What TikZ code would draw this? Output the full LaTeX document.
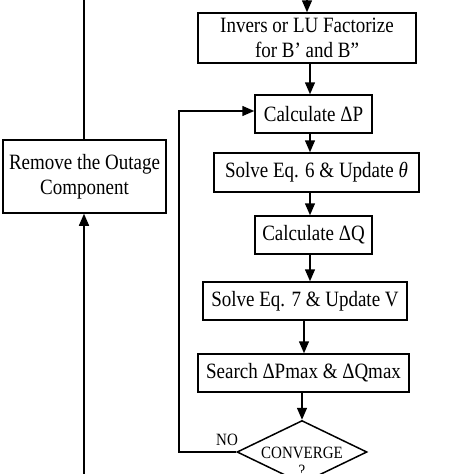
\documentclass[tikz,border=0pt]{standalone}
\usepackage{fontspec}
\setmainfont{Liberation Serif}
\usetikzlibrary{arrows.meta,shapes.geometric}
\newcommand{\vs}[1]{\scalebox{1}[1.15]{#1}}
\begin{document}
\begin{tikzpicture}[x=1pt,y=-1pt,
  line width=1.5pt,
  box/.style={draw,rectangle,inner sep=0pt,align=center,font=\fontsize{19}{25}\selectfont},
  arr/.style={-{Triangle[length=12pt,width=10pt]}},
  small/.style={font=\fontsize{15}{17}\selectfont,inner sep=0pt}]
\useasboundingbox (0,0) rectangle (474,474);
\fill[white] (0,0) rectangle (474,474);
\clip (0,0) rectangle (474,474);
% boxes
\node[box,minimum width=218pt,minimum height=50pt] (inv) at (307,38) {\vs{Invers or LU Factorize}\\\vs{for B’ and B”}};
\node[box,minimum width=117pt,minimum height=38pt] (dp) at (313.5,114) {\vs{Calculate ΔP}};
\node[box,minimum width=205pt,minimum height=39pt] (s6) at (316.5,172.5) {\vs{Solve Eq. 6 \& Update \textit{θ}}};
\node[box,minimum width=117pt,minimum height=38pt] (dq) at (313.5,235) {\vs{Calculate ΔQ}};
\node[box,minimum width=204pt,minimum height=38pt] (s7) at (305,301) {\vs{Solve Eq. 7 \& Update V}};
\node[box,minimum width=211pt,minimum height=38pt] (srch) at (303.5,373) {\vs{Search ΔPmax \& ΔQmax}};
\node[box,minimum width=163pt,minimum height=73pt] (rem) at (84.5,176.5) {\vs{Remove the Outage}\\\vs{Component}};
\node[draw,diamond,inner sep=0pt,minimum width=130pt,minimum height=63pt] (conv) at (302,452) {};
\node[small] (convt) at (302,453) {\vs{CONVERGE}};
\node[small] (convq) at (302,471) {\vs{?}};
\node[small] (no) at (227,440) {\vs{NO}};
% helper coordinates
\coordinate (top) at (307,-10);
\coordinate (c1) at (310,0);
\coordinate (c2) at (304,0);
\coordinate (c3) at (302,0);
\coordinate (fb) at (179,111);
\coordinate (topL) at (84,-10);
\coordinate (botL) at (84,490);
% connectors
\draw[arr] (top) -- (inv.north);
\draw[arr] (inv.south -| c1) -- (dp.north -| c1);
\draw[arr] (dp.south -| c1) -- (s6.north -| c1);
\draw[arr] (s6.south -| c1) -- (dq.north -| c1);
\draw[arr] (dq.south -| c1) -- (s7.north -| c1);
\draw[arr] (s7.south -| c2) -- (srch.north -| c2);
\draw[arr] (srch.south -| c3) -- (conv.north);
\draw[arr] (conv.west) -| (fb) -- (fb -| dp.west);
\draw (rem.north -| topL) -- (topL);
\draw[arr] (botL) -- (rem.south -| botL);
\end{tikzpicture}
\end{document}
